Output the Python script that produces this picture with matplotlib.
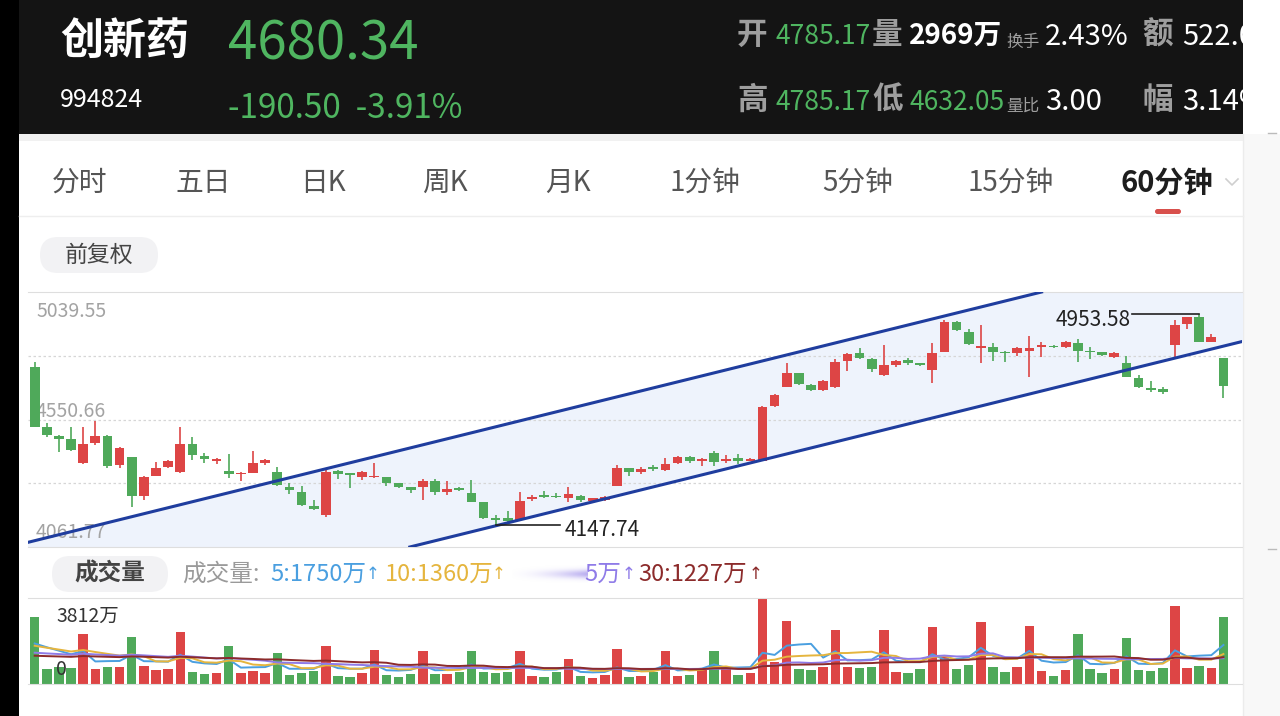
import numpy as np
import matplotlib.pyplot as plt
from matplotlib.patches import Rectangle, FancyBboxPatch

# 60-minute candles (price axis 4061.77 .. 5039.55)
opens = [4751, 4521, 4489, 4476, 4383, 4459, 4489, 4376, 4406, 4259,
         4335, 4367, 4351, 4457, 4412, 4393, 4355, 4341, 4347, 4383,
         4351, 4293, 4274, 4219, 4185, 4355, 4344, 4329, 4329, 4329,
         4306, 4291, 4293, 4316, 4274, 4287, 4268, 4233, 4172, 4172,
         4165, 4245, 4259, 4259, 4249, 4257, 4240, 4242, 4297, 4364,
         4348, 4367, 4357, 4383, 4406, 4393, 4421, 4393, 4402, 4393,
         4393, 4603, 4677, 4728, 4683, 4664, 4674, 4775, 4804, 4783,
         4721, 4760, 4779, 4766, 4740, 4811, 4926, 4885, 4824, 4827,
         4811, 4807, 4815, 4827, 4833, 4827, 4843, 4815, 4808, 4792,
         4766, 4709, 4673, 4668, 4836, 4917, 4945, 4849, 4785.17]
highs = [4770, 4536, 4490, 4523, 4523, 4545, 4491, 4445, 4408, 4334,
         4389, 4395, 4523, 4485, 4424, 4402, 4418, 4349, 4431, 4398,
         4370, 4309, 4296, 4242, 4364, 4357, 4347, 4353, 4385, 4332,
         4308, 4293, 4323, 4321, 4316, 4293, 4319, 4236, 4185, 4200,
         4274, 4261, 4277, 4268, 4293, 4260, 4251, 4259, 4376, 4366,
         4370, 4376, 4404, 4411, 4411, 4402, 4430, 4415, 4418, 4402,
         4602, 4648, 4769, 4730, 4687, 4702, 4783, 4804, 4824, 4785,
         4836, 4779, 4785, 4769, 4845, 4932, 4928, 4896, 4913, 4845,
         4813, 4829, 4872, 4849, 4836, 4852, 4858, 4827, 4811, 4808,
         4794, 4721, 4700, 4674, 4932, 4945, 4953.58, 4877, 4785.17]
lows = [4520, 4485, 4427, 4431, 4380, 4453, 4366, 4363, 4215, 4242,
        4333, 4365, 4347, 4395, 4383, 4379, 4328, 4316, 4344, 4376,
        4296, 4265, 4220, 4205, 4178, 4321, 4287, 4319, 4326, 4296,
        4287, 4268, 4242, 4261, 4261, 4278, 4233, 4169, 4147.74, 4156,
        4163, 4240, 4249, 4249, 4233, 4233, 4233, 4240, 4294, 4335,
        4341, 4355, 4355, 4380, 4385, 4372, 4372, 4383, 4379, 4390,
        4390, 4600, 4674, 4683, 4660, 4661, 4671, 4738, 4783, 4734,
        4719, 4753, 4760, 4756, 4689, 4808, 4891, 4836, 4766, 4776,
        4772, 4794, 4712, 4792, 4824, 4825, 4770, 4783, 4795, 4785,
        4712, 4671, 4655, 4647, 4792, 4896, 4847, 4847, 4632.05]
closes = [4523, 4491, 4476, 4434, 4457, 4489, 4374, 4443, 4259, 4332,
          4366, 4393, 4457, 4415, 4399, 4399, 4342, 4347, 4383, 4395,
          4300, 4280, 4223, 4208, 4351, 4342, 4338, 4351, 4335, 4306,
          4291, 4280, 4316, 4272, 4283, 4282, 4236, 4174, 4165, 4163,
          4240, 4255, 4255, 4252, 4265, 4242, 4249, 4252, 4364, 4348,
          4361, 4361, 4380, 4408, 4393, 4399, 4389, 4399, 4393, 4399,
          4600, 4645, 4728, 4687, 4664, 4698, 4772, 4802, 4785, 4743,
          4760, 4776, 4766, 4760, 4804, 4926, 4894, 4840, 4833, 4811,
          4804, 4826, 4824, 4836, 4827, 4849, 4813, 4808, 4798, 4804,
          4715, 4674, 4664, 4657, 4913, 4942, 4849, 4868, 4680.34]
# volume in 万
volumes = [2950, 667, 741, 712, 2195, 667, 741, 771, 2076, 786,
           623, 667, 2299, 519, 445, 489, 1676, 489, 593, 489,
           1379, 415, 489, 564, 1661, 371, 297, 489, 1483, 400,
           297, 445, 1453, 445, 445, 519, 1453, 549, 489, 519,
           1453, 371, 326, 519, 1112, 341, 267, 415, 1527, 326,
           341, 519, 1453, 371, 415, 638, 1439, 741, 415, 489,
           3812, 964, 2788, 667, 638, 771, 2373, 771, 712, 771,
           2373, 519, 475, 667, 2536, 1186, 667, 860, 2744, 771,
           519, 741, 2551, 564, 371, 623, 2225, 667, 475, 667,
           2047, 623, 593, 712, 3455, 712, 786, 697, 2966]

ma_windows = [5, 10, 20, 30]
ma_start = [1500, 1550, 1300, 1190]   # MA levels seen at the left edge
ma_colors = ['#4a9fe0', '#e5b53e', '#8f7be8', '#8c2b2b']
ma_labels = ['5:1750万', '10:1360万', '5万', '30:1227万']

# drawn channel lines (two points each: candle index, price)
upper_pts = [(0, 4086), (80, 5005)]
lower_pts = [(38, 4143), (98, 4832)]

price_min, price_max = 4061.77, 5039.55

tabs = ['分时', '五日', '日K', '周K', '月K', '1分钟', '5分钟', '15分钟', '60分钟']
tab_x = [52, 175, 300, 422, 545, 670, 822, 968, 1120]

RED = '#dd4545'
GREEN = '#4fa95a'
HGREEN = '#4fb560'
CJK = ['Noto Sans CJK SC', 'DejaVu Sans']
plt.rcParams['font.family'] = CJK

W, H = 1280, 716


def box(x0, y0, x1, y1):
    return [x0 / W, 1 - y1 / H, (x1 - x0) / W, (y1 - y0) / H]


def line_at(pts, xs):
    (x0, y0), (x1, y1) = pts
    return y0 + (np.asarray(xs) - x0) * (y1 - y0) / (x1 - x0)


def moving_avg(v, w, start):
    out = []
    for i in range(len(v)):
        seen = v[max(0, i - w + 1):i + 1]
        out.append((sum(seen) + start * (w - len(seen))) / w)
    return np.array(out)


fig = plt.figure(figsize=(12.8, 7.16), dpi=100)
bg = fig.add_axes([0, 0, 1, 1])
bg.set_xlim(0, W)
bg.set_ylim(H, 0)
bg.axis('off')

# page pieces
bg.add_patch(Rectangle((0, 0), 19, H, color='black', lw=0))
bg.add_patch(Rectangle((19, 0), 1224, 134, color='#141414', lw=0))
bg.add_patch(Rectangle((19, 134), 1224, 7, color='#f1f1f1', lw=0))
bg.add_patch(Rectangle((1243, 134), 37, H - 134, color='#f8f8f8', lw=0))
bg.plot([1243, 1243], [134, H], color='#ececec', lw=1)
bg.plot([1268, 1276], [133, 133], color='#bbbbbb', lw=1)
bg.plot([1268, 1276], [549, 549], color='#bbbbbb', lw=1)
bg.plot([19, 1243], [216, 216], color='#eeeeee', lw=1)

clip = Rectangle((19, 0), 1224, 134, transform=bg.transData)


def ht(x, y, s, size, color, weight='normal'):
    t = bg.text(x, y, s, fontsize=size, color=color,
                weight=weight, ha='left', va='center')
    t.set_clip_path(clip)
    return t


# header
gray_h = '#9e9e9e'
ht(60, 41, '创新药', 31, 'white', weight='bold')
ht(228, 44, f'{closes[-1]:.2f}', 38, HGREEN)
ht(60, 100, '994824', 18, 'white')
ht(228, 108, '-190.50  -3.91%', 24, HGREEN)
ht(737, 35, '开', 22, gray_h, weight='bold')
ht(775, 37, f'{opens[-1]:.2f}', 19, HGREEN)
ht(872, 35, '量', 22, gray_h, weight='bold')
ht(909, 36, '2969万', 20, 'white', weight='bold')
ht(1006, 42, '换手', 12, gray_h)
ht(1045, 37, '2.43%', 21, 'white')
ht(1142, 35, '额', 22, gray_h, weight='bold')
ht(1182, 37, '522.0', 21, 'white')
ht(737, 100, '高', 22, gray_h, weight='bold')
ht(775, 102, f'{highs[-1]:.2f}', 19, HGREEN)
ht(872, 100, '低', 22, gray_h, weight='bold')
ht(909, 102, f'{lows[-1]:.2f}', 19, HGREEN)
ht(1006, 106, '量比', 12, gray_h)
ht(1045, 102, '3.00', 21, 'white')
ht(1142, 100, '幅', 22, gray_h, weight='bold')
ht(1182, 102, '3.14%', 21, 'white')

# period tabs
for name, x in zip(tabs, tab_x):
    sel = name == '60分钟'
    bg.text(x, 183, name, fontsize=21 if sel else 20,
            color='#1e1e1e' if sel else '#555555',
            weight='bold' if sel else 'normal', ha='left', va='center')
bg.add_patch(FancyBboxPatch((1155, 209), 26, 5, boxstyle='round,pad=0,rounding_size=2.5',
                            color='#d8504c', lw=0))
bg.plot([1226, 1232, 1238], [179, 185, 179], color='#cfcfcf', lw=1.2)

bg.add_patch(FancyBboxPatch((40, 237), 118, 36, boxstyle='round,pad=0,rounding_size=18',
                            color='#f2f2f4', lw=0))
bg.text(99, 255, '前复权', fontsize=16.5, color='#444444', ha='center', va='center')

# candles
n = len(closes)
x = np.arange(n)
o, h, l, c = map(np.array, (opens, highs, lows, closes))
up = c >= o
cols = np.where(up, RED, GREEN)

ax = fig.add_axes(box(28, 292, 1242, 547))
ax.set_xlim(-0.55, 99.53)
ax.set_ylim(price_min, price_max)
ax.set_xticks([])
ax.set_yticks([])
for s in ('left', 'right'):
    ax.spines[s].set_visible(False)
for s in ('top', 'bottom'):
    ax.spines[s].set_color('#dedede')

xs = np.array([-2, 102])
ax.fill_between(xs, line_at(lower_pts, xs), line_at(upper_pts, xs),
                color='#eef3fc', lw=0, zorder=0)
step = (price_max - price_min) / 4
for k in (1, 2, 3):
    ax.axhline(price_min + k * step, color='#d6d6d6', lw=0.9,
               ls=(0, (2, 2)), zorder=0.5)

lab = dict(fontsize=14, color='#a3a3a3', transform=ax.transAxes, zorder=1, va='center')
ax.text(0.0066, 0.925, f'{price_max:.2f}', **lab)
ax.text(0.0066, 0.53, f'{(price_max + price_min) / 2:.2f}', **lab)
ax.text(0.0066, 0.055, f'{price_min:.2f}', **lab)

ax.vlines(x, l, h, colors=cols, lw=1.2, zorder=3)
ax.bar(x, np.maximum(np.abs(c - o), 5), bottom=np.minimum(o, c), width=0.8,
       color=cols, lw=0, zorder=4)

ax.axline(*upper_pts, color='#1f3d9e', lw=2.2, zorder=5)
ax.axline(*lower_pts, color='#1f3d9e', lw=2.2, zorder=5)

hi_i = int(np.argmax(h))
lo_i = int(np.argmin(l))
ax.plot([hi_i - 5.5, hi_i], [h[hi_i], h[hi_i]], color='#222222', lw=1.2, zorder=6)
ax.annotate(f'{h[hi_i]:.2f}', (hi_i - 5.65, h[hi_i]), xytext=(0, -4),
            textcoords='offset points', ha='right', va='center',
            fontsize=15, color='#222222', zorder=6)
ax.plot([lo_i, lo_i + 5.3], [l[lo_i], l[lo_i]], color='#222222', lw=1.2, zorder=6)
ax.annotate(f'{l[lo_i]:.2f}', (lo_i + 5.65, l[lo_i]), xytext=(0, -4),
            textcoords='offset points', ha='left', va='center',
            fontsize=15, color='#222222', zorder=6)

# volume panel header
bg.add_patch(FancyBboxPatch((52, 556), 116, 36, boxstyle='round,pad=0,rounding_size=18',
                            color='#f2f2f4', lw=0))
bg.text(110, 574, '成交量', fontsize=17, color='#444444', weight='bold',
        ha='center', va='center')
bg.text(182, 574, '成交量:', fontsize=17, color='#9a9a9a', ha='left', va='center')
leg_x = [270, 385, 584, 638]
arrow_x = [373, 499, 629, 756]
for lx, axx, name, col in zip(leg_x, arrow_x, ma_labels, ma_colors):
    bg.text(lx, 574, name, fontsize=17, color=col, ha='left', va='center')
    bg.text(axx, 574, '↑', fontsize=12, color=col, ha='center', va='center',
            family=['DejaVu Sans'])
grad = np.zeros((20, 120, 4))
grad[..., :3] = np.array([0.62, 0.56, 0.92])
yy = np.exp(-((np.linspace(-1, 1, 20)) ** 2) / 0.25)
xx = np.linspace(0.1, 0.85, 120) ** 2
grad[..., 3] = yy[:, None] * xx[None, :]
bg.imshow(grad, extent=(512, 588, 583, 565), aspect='auto', interpolation='bilinear')

# volume bars
vax = fig.add_axes(box(28, 597.7, 1242, 684))
vax.set_xlim(-0.55, 99.53)
vol = np.array(volumes, dtype=float)
vax.set_ylim(0, vol.max())
vax.set_xticks([])
vax.set_yticks([])
for s in ('left', 'right'):
    vax.spines[s].set_visible(False)
for s in ('top', 'bottom'):
    vax.spines[s].set_color('#dedede')
vax.bar(x, vol, width=0.78, color=cols, lw=0, zorder=2)
for w, st, col in zip(ma_windows, ma_start, ma_colors):
    vax.plot(x, moving_avg(volumes, w, st), color=col, lw=1.4, zorder=3)
vax.text(0.0231, 0.78, f'{vol.max():.0f}万', transform=vax.transAxes,
         fontsize=14, color='#333333', va='center', zorder=4)
vax.text(0.0231, 0.17, '0', transform=vax.transAxes,
         fontsize=14, color='#333333', va='center', zorder=4)

fig.savefig('out.png', dpi=100)
